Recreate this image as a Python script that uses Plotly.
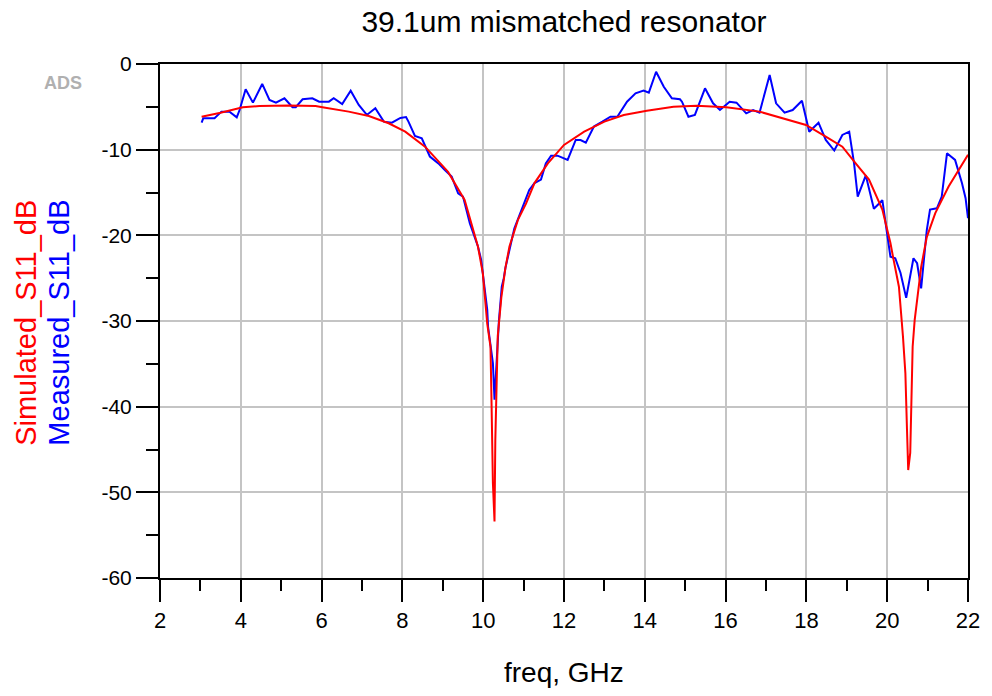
import plotly.graph_objects as go

# Simulated S11 (dB) vs frequency (GHz)
sim_freq = [3.03, 3.5, 4.05, 4.46, 5.2, 5.85, 6.02, 6.67, 7.17, 7.66, 8.07, 8.56,
            9.13, 9.54, 9.87, 9.99, 10.10, 10.18, 10.20, 10.24, 10.28, 10.30,
            10.36, 10.45, 10.55, 10.65, 10.86, 11.06, 11.27, 11.6, 12.0, 12.5,
            13.0, 13.48, 14.05, 14.71, 15.28, 16.02, 16.84, 17.42, 17.99, 18.48,
            18.89, 19.22, 19.55, 19.88, 20.08, 20.16, 20.29, 20.39, 20.45, 20.49,
            20.52, 20.57, 20.60, 20.63, 20.68, 20.74, 20.84, 20.98, 21.19, 21.52,
            21.76, 22.0]
sim_db = [-6.15, -5.7, -5.05, -4.9, -4.85, -4.9, -5.05, -5.56, -6.07, -6.92, -7.9, -9.65,
          -12.6, -15.87, -21.3, -24.4, -30.3, -33.0, -37.8, -48.9, -53.4, -43.9,
          -31.8, -27.2, -23.8, -21.3, -18.2, -16.3, -13.9, -11.6, -9.45, -7.9,
          -6.73, -5.95, -5.45, -4.98, -4.86, -5.05, -5.56, -6.34, -7.12, -8.48,
          -9.65, -11.6, -13.5, -17.0, -20.9, -22.9, -26.0, -31.8, -36.1, -42.7,
          -47.4, -45.4, -37.7, -33.0, -29.9, -27.5, -23.7, -20.2, -17.4, -14.3,
          -12.4, -10.6]

# Measured S11 (dB) vs frequency (GHz)
meas_freq = [3.03, 3.07, 3.35, 3.52, 3.72, 3.90, 3.97, 4.12, 4.30, 4.53, 4.71, 4.87,
             5.08, 5.28, 5.36, 5.53, 5.77, 5.94, 6.18, 6.30, 6.51, 6.72, 6.92, 7.12,
             7.33, 7.54, 7.74, 7.95, 8.09, 8.15, 8.31, 8.48, 8.68, 8.89, 9.05, 9.22,
             9.38, 9.50, 9.67, 9.87, 9.95, 10.04, 10.10, 10.12, 10.18, 10.24, 10.28,
             10.32, 10.35, 10.39, 10.46, 10.51, 10.55, 10.65, 10.77, 10.87, 11.02,
             11.14, 11.27, 11.43, 11.55, 11.68, 11.84, 12.09, 12.29, 12.41, 12.54,
             12.74, 12.95, 13.15, 13.32, 13.56, 13.77, 13.97, 14.10, 14.28, 14.47,
             14.67, 14.87, 14.92, 15.08, 15.24, 15.49, 15.69, 15.86, 16.10, 16.27,
             16.51, 16.68, 16.84, 17.09, 17.25, 17.46, 17.66, 17.89, 18.07, 18.30,
             18.48, 18.69, 18.89, 19.06, 19.18, 19.27, 19.47, 19.67, 19.88, 20.0,
             20.08, 20.20, 20.33, 20.47, 20.65, 20.74, 20.84, 20.90, 20.98, 21.06,
             21.23, 21.35, 21.48, 21.68, 21.85, 21.94, 22.0]
meas_db = [-6.85, -6.34, -6.34, -5.56, -5.56, -6.22, -5.37, -2.95, -4.51, -2.33, -4.2, -4.51,
           -4.0, -5.05, -5.05, -4.12, -4.0, -4.4, -4.4, -4.0, -4.67, -3.11, -4.78, -5.95,
           -5.17, -6.73, -6.85, -6.3, -6.2, -6.73, -8.4, -8.67, -10.8, -11.6, -12.37, -13.15,
           -15.1, -15.48, -18.6, -21.3, -22.87, -26.0, -28.7, -30.65, -33.0, -34.9, -39.2,
           -35.7, -33.0, -29.9, -26.0, -25.0, -23.8, -21.7, -19.2, -18.0, -16.25,
           -14.7, -13.9, -13.5, -11.6, -10.7, -10.7, -11.2, -8.87, -8.87, -9.18,
           -7.3, -6.73, -6.15, -6.15, -4.4, -3.42, -3.11, -3.35, -0.9, -2.65,
           -4.0, -4.12, -4.4, -6.15, -5.95, -2.84, -4.59, -5.37, -4.4, -4.51,
           -5.76, -5.37, -5.68, -1.28, -4.59, -5.68, -5.37, -4.28, -7.9, -6.85,
           -8.87, -10.1, -8.28, -7.9, -11.6, -15.48, -13.0, -16.9, -15.9, -19.9,
           -22.5, -22.67, -24.4, -27.3, -22.67, -23.26, -26.2, -23.26, -19.4, -17.0,
           -16.84, -15.48, -10.42, -11.2, -13.9, -15.67, -18.0]

x_ticks = [2, 4, 6, 8, 10, 12, 14, 16, 18, 20, 22]
y_ticks = [0, -10, -20, -30, -40, -50, -60]

FONT = "Liberation Sans, Arial, sans-serif"

fig = go.Figure()
fig.add_trace(go.Scatter(x=meas_freq, y=meas_db, mode="lines", name="Measured_S11_dB",
                         line=dict(color="#0000ff", width=2)))
fig.add_trace(go.Scatter(x=sim_freq, y=sim_db, mode="lines", name="Simulated_S11_dB",
                         line=dict(color="#ff0000", width=2)))

axis_common = dict(
    showline=True, linecolor="black", linewidth=2, mirror=True,
    showgrid=True, gridcolor="#c4c4c4", gridwidth=2, zeroline=False,
    ticks="outside", ticklen=22, tickwidth=2, tickcolor="black",
)

fig.update_xaxes(range=[2, 22], tickvals=x_ticks, ticktext=[str(v) for v in x_ticks],
                 tickfont=dict(family=FONT, size=22, color="black"),
                 minor=dict(dtick=1, ticks="outside", ticklen=11, tickwidth=2,
                            tickcolor="black", showgrid=False),
                 **axis_common)
fig.update_yaxes(range=[-60, 0], tickvals=y_ticks, ticktext=[str(v) for v in y_ticks],
                 tickfont=dict(family=FONT, size=21, color="black"),
                 minor=dict(dtick=5, ticks="outside", ticklen=12, tickwidth=2,
                            tickcolor="black", showgrid=False),
                 **axis_common)

fig.update_layout(
    width=992, height=696,
    margin=dict(l=160, r=19, t=64, b=118),
    paper_bgcolor="white", plot_bgcolor="white",
    showlegend=False,
    title=dict(text="39.1um mismatched resonator", x=0.5, xref="paper",
               y=1 - 21 / 696, yref="container", yanchor="middle", xanchor="center",
               font=dict(family=FONT, size=30, color="black")),
    annotations=[
        dict(text="freq, GHz", xref="paper", yref="paper", x=0.5, y=(578 - 672) / 514,
             xanchor="center", yanchor="middle", showarrow=False,
             font=dict(family=FONT, size=28, color="black")),
        dict(text="Simulated_S11_dB", xref="paper", yref="paper",
             x=(25 - 160) / 813, y=(578 - 323) / 514, textangle=-90,
             xanchor="center", yanchor="middle", showarrow=False,
             font=dict(family=FONT, size=29, color="#ff0000")),
        dict(text="Measured_S11_dB", xref="paper", yref="paper",
             x=(58 - 160) / 813, y=(578 - 323) / 514, textangle=-90,
             xanchor="center", yanchor="middle", showarrow=False,
             font=dict(family=FONT, size=29, color="#0000ff")),
        dict(text="<b>ADS</b>", xref="paper", yref="paper",
             x=(62 - 160) / 813, y=(578 - 83) / 514,
             xanchor="center", yanchor="middle", showarrow=False,
             font=dict(family=FONT, size=18, color="#b0b0b0")),
    ],
)

fig.write_html("out.html")
